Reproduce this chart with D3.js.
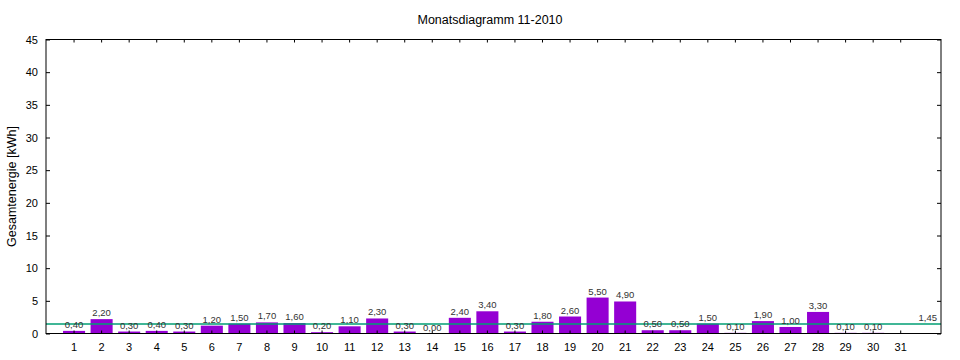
<!DOCTYPE html>
<html><head><meta charset="utf-8">
<script src="https://cdn.jsdelivr.net/npm/d3@7"></script>
<style>body{margin:0;background:#fff}svg{display:block;font-family:"Liberation Sans",Arial,sans-serif}</style>
</head><body><svg id="c" width="960" height="360"></svg>
<script>
const days = d3.range(1, 32);
const values = [0.4,2.2,0.3,0.4,0.3,1.2,1.5,1.7,1.6,0.2,1.1,2.3,0.3,0.0,2.4,3.4,0.3,1.8,2.6,5.5,4.9,0.5,0.5,1.5,0.1,1.9,1.0,3.3,0.1,0.1,null];
const yTicks = [0,5,10,15,20,25,30,35,40,45];
const meanValue = 1.45;
const title = "Monatsdiagramm 11-2010";
const yLabel = "Gesamtenergie [kWh]";

const svg = d3.select("#c");
const L = 46, R = 941, T = 39.5, B = 333.5;
const x = d3.scaleLinear().domain([0, 32.48]).range([L, R]);
const y = d3.scaleLinear().domain([0, 45]).range([B, T]);
const fmt = v => v.toFixed(2).replace(".", ",");

svg.append("text").attr("x", 490).attr("y", 24).attr("text-anchor", "middle")
  .attr("font-size", 12.5).attr("fill", "#000").text(title);
svg.append("text").attr("transform", `translate(16,${(T+B)/2}) rotate(-90)`)
  .attr("text-anchor", "middle").attr("font-size", 12.5).attr("fill", "#000").text(yLabel);

const data = days.map((d, i) => ({d, v: values[i]})).filter(o => o.v !== null);
const bw = x(0.8) - x(0);
svg.append("g").selectAll("rect").data(data).join("rect")
  .attr("x", o => x(o.d) - bw/2 + 0.5).attr("width", bw)
  .attr("y", o => y(o.v)).attr("height", o => B - y(o.v))
  .attr("fill", "#9400d3");

// mean line
svg.append("line").attr("x1", L).attr("x2", R).attr("y1", y(meanValue)).attr("y2", y(meanValue))
  .attr("stroke", "#009e73").attr("stroke-width", 1.5);

// value labels
svg.append("g").selectAll("text").data(data).join("text")
  .attr("x", o => x(o.d) + 0.5).attr("y", o => y(o.v) - 3)
  .attr("text-anchor", "middle").attr("font-size", 9.5).attr("fill", "#333")
  .text(o => fmt(o.v));
svg.append("text").attr("x", x(32)).attr("y", y(meanValue) - 3)
  .attr("text-anchor", "middle").attr("font-size", 9.5).attr("fill", "#333").text(fmt(meanValue));

// axes
const ax = svg.append("g");
ax.append("g").attr("transform", `translate(0,${B})`)
  .call(d3.axisBottom(x).tickValues(days).tickSize(-3).tickPadding(10).tickFormat(d3.format("d")))
  .call(g => g.select(".domain").remove());
ax.append("g").attr("transform", `translate(0,${T})`)
  .call(d3.axisTop(x).tickValues(days).tickSize(-3).tickFormat(""))
  .call(g => g.select(".domain").remove());
ax.append("g").attr("transform", `translate(${L},0)`)
  .call(d3.axisLeft(y).tickValues(yTicks).tickSize(-4).tickPadding(8))
  .call(g => g.select(".domain").remove());
ax.append("g").attr("transform", `translate(${R},0)`)
  .call(d3.axisRight(y).tickValues(yTicks).tickSize(-4).tickFormat(""))
  .call(g => g.select(".domain").remove());
ax.selectAll(".tick text").attr("font-size", 11).attr("font-family", "Liberation Sans, Arial, sans-serif").attr("fill", "#000");
ax.selectAll(".tick line").attr("stroke", "#000");
svg.append("rect").attr("x", L).attr("y", T).attr("width", R - L).attr("height", B - T)
  .attr("fill", "none").attr("stroke", "#000").attr("stroke-width", 1);
</script></body></html>
